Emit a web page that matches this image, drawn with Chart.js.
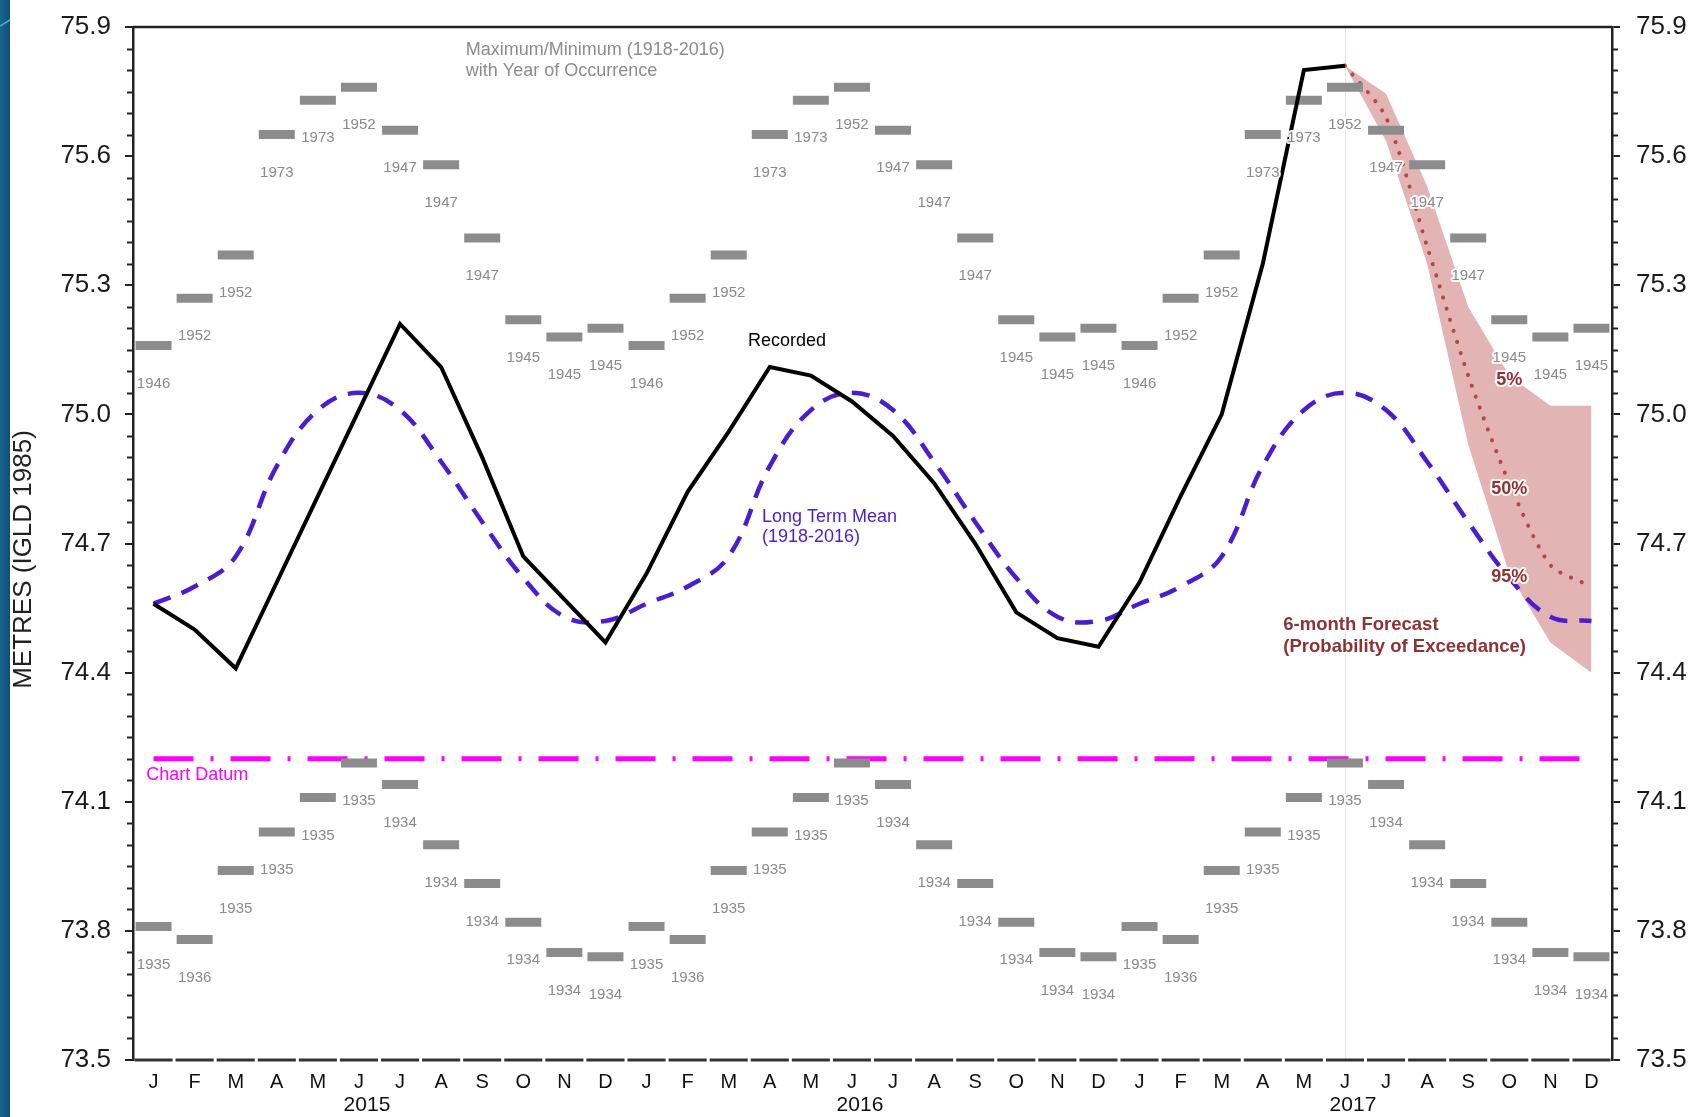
<!DOCTYPE html>
<html>
<head>
<meta charset="utf-8">
<script src="https://cdn.jsdelivr.net/npm/chart.js@4"></script>
<style>
  html, body { margin: 0; padding: 0; background: #fff; }
  #wrap { position: relative; width: 1694px; height: 1117px; }
</style>
</head>
<body>
<div id="wrap"><canvas id="levels"></canvas></div>
<script>
const months = ['J', 'F', 'M', 'A', 'M', 'J', 'J', 'A', 'S', 'O', 'N', 'D'];
const years = ['2015', '2016', '2017'];

// recorded monthly mean levels, Jan 2015 - Jun 2017
const recorded = [
  74.56, 74.50, 74.41, 74.61, 74.81, 75.01, 75.21, 75.11, 74.90, 74.67, 74.57, 74.47,
  74.63, 74.82, 74.96, 75.11, 75.09, 75.03, 74.95, 74.84, 74.70, 74.54, 74.48, 74.46,
  74.61, 74.81, 75.00, 75.35, 75.80, 75.81
];

// long term mean 1918-2016, Jan..Dec
const longTermMean = [74.56, 74.60, 74.67, 74.88, 75.01, 75.05, 75.01, 74.89, 74.75, 74.62, 74.53, 74.52];

// max / min of record with year of occurrence, Jan..Dec
const maxLevels = [75.16, 75.27, 75.37, 75.65, 75.73, 75.76, 75.66, 75.58, 75.41, 75.22, 75.18, 75.20];
const maxYears = ['1946', '1952', '1952', '1973', '1973', '1952', '1947', '1947', '1947', '1945', '1945', '1945'];
const minLevels = [73.81, 73.78, 73.94, 74.03, 74.11, 74.19, 74.14, 74.00, 73.91, 73.82, 73.75, 73.74];
const minYears = ['1935', '1936', '1935', '1935', '1935', '1935', '1934', '1934', '1934', '1934', '1934', '1934'];

// 6-month forecast, Jun..Dec 2017
const forecast5 = [75.81, 75.745, 75.53, 75.25, 75.09, 75.02, 75.02];
const forecast50 = [75.81, 75.69, 75.39, 75.09, 74.84, 74.65, 74.60];
const forecast95 = [75.81, 75.635, 75.35, 74.93, 74.63, 74.47, 74.40];
const forecastStart = 29;

const chartDatum = 74.2;
const yTickValues = [73.5, 73.8, 74.1, 74.4, 74.7, 75.0, 75.3, 75.6, 75.9];

const FONT = '"Liberation Sans", Arial, sans-serif';

const labels = years.flatMap(y => months.map((m, i) => y + '-' + (i + 1)));
const pad = n => Array(n).fill(null);
const repeatYears = arr => years.flatMap(() => arr);

function txt(ctx, s, x, y, font, color, align, halo) {
  ctx.font = font;
  ctx.textAlign = align || 'left';
  ctx.textBaseline = 'middle';
  if (halo) {
    ctx.lineJoin = 'round';
    ctx.lineWidth = 4;
    ctx.strokeStyle = 'rgba(255,255,255,0.9)';
    ctx.strokeText(s, x, y);
  }
  ctx.fillStyle = color;
  ctx.fillText(s, x, y);
}

const decor = {
  id: 'decor',
  beforeDraw(chart) {
    const ctx = chart.ctx;
    ctx.save();
    ctx.fillStyle = '#fff';
    ctx.fillRect(0, 0, chart.width, chart.height);
    const g = ctx.createLinearGradient(0, 0, 10, 0);
    g.addColorStop(0, '#1a6590');
    g.addColorStop(1, '#134d75');
    ctx.fillStyle = g;
    ctx.fillRect(0, 0, 10, chart.height);
    ctx.strokeStyle = '#3fb8c8';
    ctx.lineWidth = 1.5;
    ctx.beginPath();
    ctx.moveTo(0, 26);
    ctx.lineTo(10, 20);
    ctx.stroke();
    ctx.restore();
  },
  beforeDatasetsDraw(chart) {
    const ctx = chart.ctx, a = chart.chartArea, x = chart.scales.x;
    const px = Math.round(x.getPixelForValue(forecastStart)) + 0.5;
    ctx.save();
    ctx.strokeStyle = '#efe2e6';
    ctx.lineWidth = 1;
    ctx.beginPath();
    ctx.moveTo(px, a.top);
    ctx.lineTo(px, a.bottom);
    ctx.stroke();
    ctx.restore();
  },
  afterDatasetsDraw(chart) {
    const ctx = chart.ctx, a = chart.chartArea;
    const xs = chart.scales.x, ys = chart.scales.y;
    ctx.save();

    // year of occurrence under each max/min bar
    [[2, maxYears], [3, minYears]].forEach(([idx, yrs]) => {
      chart.getDatasetMeta(idx).data.forEach((p, i) => {
        txt(ctx, yrs[i % 12], p.x, p.y + 38, '15px ' + FONT, '#8a8a8a', 'center', true);
      });
    });

    // annotations
    const X = i => xs.getPixelForValue(i);
    const Y = v => ys.getPixelForValue(v);
    txt(ctx, 'Maximum/Minimum (1918-2016)', X(7.6), Y(75.846), '18px ' + FONT, '#8c8c8c');
    txt(ctx, 'with Year of Occurrence', X(7.6), Y(75.797), '18px ' + FONT, '#8c8c8c');
    txt(ctx, 'Recorded', X(14.47), Y(75.17), '18px ' + FONT, '#000');
    txt(ctx, 'Long Term Mean', X(14.81), Y(74.762), '18px ' + FONT, '#4a1ed0');
    txt(ctx, '(1918-2016)', X(14.81), Y(74.714), '18px ' + FONT, '#4a1ed0');
    txt(ctx, 'Chart Datum', X(-0.18), Y(74.161), '18px ' + FONT, '#ff00ff');
    txt(ctx, '6-month Forecast', X(27.5), Y(74.51), 'bold 18.5px ' + FONT, '#8e3333', 'left', true);
    txt(ctx, '(Probability of Exceedance)', X(27.5), Y(74.46), 'bold 18.5px ' + FONT, '#8e3333', 'left', true);
    txt(ctx, '5%', X(33), Y(75.079), 'bold 18px ' + FONT, '#8e3333', 'center', true);
    txt(ctx, '50%', X(33), Y(74.827), 'bold 18px ' + FONT, '#8e3333', 'center', true);
    txt(ctx, '95%', X(33), Y(74.621), 'bold 18px ' + FONT, '#8e3333', 'center', true);

    // minor ticks every 0.05 on both sides
    ctx.strokeStyle = '#222';
    ctx.lineWidth = 2;
    ctx.beginPath();
    for (let k = 0; k <= 48; k++) {
      if (k % 6 === 0) continue;
      const py = Math.round(ys.getPixelForValue(73.5 + k * 0.05)) + 0.5;
      ctx.moveTo(a.left - 6, py); ctx.lineTo(a.left, py);
      ctx.moveTo(a.right, py); ctx.lineTo(a.right + 6, py);
    }
    ctx.stroke();

    // top frame line
    ctx.lineWidth = 2.5;
    ctx.beginPath();
    ctx.moveTo(a.left, a.top);
    ctx.lineTo(a.right, a.top);
    ctx.stroke();

    // bottom axis, broken at month boundaries
    ctx.strokeStyle = '#333';
    ctx.lineWidth = 3;
    ctx.beginPath();
    for (let i = 0; i < labels.length; i++) {
      const l = xs.getPixelForValue(i - 0.5), r = xs.getPixelForValue(i + 0.5);
      ctx.moveTo(l + 1.5, a.bottom);
      ctx.lineTo(r - 1.5, a.bottom);
    }
    ctx.stroke();

    // year labels
    years.forEach((y, k) => {
      txt(ctx, y, xs.getPixelForValue(k * 12 + 5) + 8, a.bottom + 45, '21px ' + FONT, '#111', 'center');
    });

    // y axis title
    ctx.translate(24, (a.top + a.bottom) / 2 + 16);
    ctx.rotate(-Math.PI / 2);
    txt(ctx, 'METRES (IGLD 1985)', 0, 0, '26px ' + FONT, '#222', 'center');
    ctx.restore();
  }
};

const yAxis = (position, width, padding) => ({
  position,
  min: 73.5,
  max: 75.9,
  afterBuildTicks: s => { s.ticks = yTickValues.map(v => ({ value: v })); },
  afterFit: s => { s.width = width; },
  grid: { drawOnChartArea: false, drawTicks: true, tickLength: 8, color: '#222', lineWidth: 2 },
  border: { display: true, color: '#222', width: 2.5 },
  ticks: {
    padding,
    autoSkip: false,
    color: '#1a1a1a',
    font: { size: 26, family: FONT, lineHeight: 0.3 },
    callback: v => Number(v).toFixed(1)
  }
});

new Chart(document.getElementById('levels'), {
  type: 'line',
  data: {
    labels,
    datasets: [
      {
        label: 'Recorded',
        data: recorded.concat(pad(labels.length - recorded.length)),
        borderColor: '#000',
        borderWidth: 4,
        pointRadius: 0,
        tension: 0
      },
      {
        label: 'Long Term Mean',
        data: repeatYears(longTermMean),
        borderColor: '#4a1ed0',
        borderWidth: 4.5,
        borderDash: [18, 12],
        pointRadius: 0,
        tension: 0.4
      },
      {
        label: 'Maximum',
        data: repeatYears(maxLevels),
        showLine: false,
        pointStyle: 'line',
        pointRadius: 18,
        pointBorderWidth: 9,
        pointBorderColor: '#8c8c8c',
        borderColor: '#8c8c8c'
      },
      {
        label: 'Minimum',
        data: repeatYears(minLevels),
        showLine: false,
        pointStyle: 'line',
        pointRadius: 18,
        pointBorderWidth: 9,
        pointBorderColor: '#8c8c8c',
        borderColor: '#8c8c8c'
      },
      {
        label: '50%',
        data: pad(forecastStart).concat(forecast50),
        borderColor: '#b84444',
        borderWidth: 4,
        borderDash: [0.1, 11.5],
        borderCapStyle: 'round',
        pointRadius: 0,
        tension: 0.25
      },
      {
        label: '5%',
        data: pad(forecastStart).concat(forecast5),
        borderColor: 'rgba(0,0,0,0)',
        borderWidth: 0,
        pointRadius: 0,
        backgroundColor: '#e3b4b4',
        fill: '+1'
      },
      {
        label: '95%',
        data: pad(forecastStart).concat(forecast95),
        borderColor: 'rgba(0,0,0,0)',
        borderWidth: 0,
        pointRadius: 0,
        fill: false
      },
      {
        label: 'Chart Datum',
        data: [{ x: labels[0], y: chartDatum }, { x: labels[labels.length - 1], y: chartDatum }],
        borderColor: '#ff00ff',
        borderWidth: 5,
        borderDash: [40, 17, 3, 17],
        pointRadius: 0
      }
    ]
  },
  options: {
    responsive: true,
    maintainAspectRatio: false,
    animation: false,
    events: [],
    layout: { padding: { top: 21, left: 0, right: 0, bottom: 0 } },
    plugins: { legend: { display: false }, tooltip: { enabled: false } },
    scales: {
      x: {
        type: 'category',
        offset: true,
        grid: { display: false },
        border: { display: false },
        afterFit: s => { s.height = 57; },
        ticks: {
          autoSkip: false,
          maxRotation: 0,
          padding: 2,
          color: '#111',
          font: { size: 20, family: FONT },
          callback: (v, i) => months[i % 12]
        }
      },
      y: yAxis('left', 133, 14),
      y2: yAxis('right', 82, 16)
    }
  },
  plugins: [decor]
});
</script>
</body>
</html>
